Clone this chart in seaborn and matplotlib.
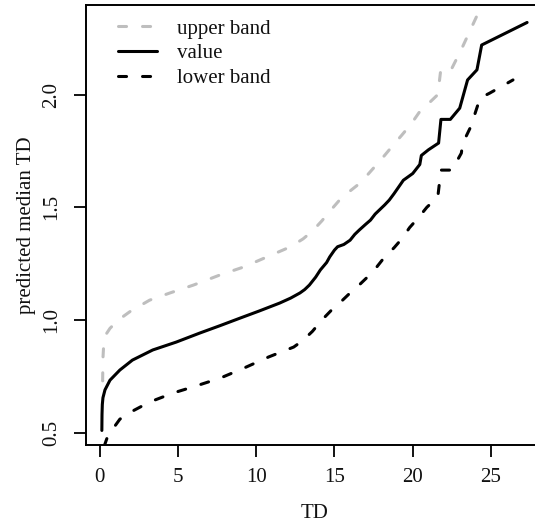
import matplotlib
matplotlib.use("Agg")
import matplotlib.pyplot as plt
import seaborn as sns
import pandas as pd

# Fitted median curve and its confidence band against TD
td_value = [0.15, 0.16, 0.18, 0.22, 0.35, 0.67, 1.3, 2.1, 3.4, 4.9, 6.4, 7.7, 9.0,
            10.2, 11.5, 12.2, 12.8, 13.1, 13.4, 13.8, 14.1, 14.5, 14.7, 15.0, 15.2,
            15.6, 16.0, 16.3, 16.6, 17.0, 17.3, 17.6, 17.9, 18.2, 18.5, 18.8, 19.0,
            19.4, 20.0, 20.45, 20.55, 21.0, 21.65, 21.8, 22.4, 23.0, 23.5, 24.1, 24.4, 27.3]
value = [0.51, 0.58, 0.625, 0.655, 0.69, 0.733, 0.778, 0.822, 0.867, 0.902, 0.942,
         0.975, 1.009, 1.04, 1.075, 1.097, 1.12, 1.135, 1.155, 1.19, 1.222, 1.255, 1.28,
         1.31, 1.325, 1.335, 1.354, 1.38, 1.40, 1.425, 1.443, 1.47, 1.49, 1.51, 1.532,
         1.56, 1.58, 1.62, 1.65, 1.69, 1.73, 1.755, 1.785, 1.89, 1.89, 1.94, 2.065,
         2.11, 2.22, 2.32]

td_upper = [0.2, 0.22, 0.26, 0.32, 0.45, 0.67, 1.2, 2.0, 3.2, 4.5, 6.0, 7.7, 9.2, 10.7,
            12.2, 13.0, 13.6, 14.2, 14.8, 15.3, 15.9, 16.5, 17.1, 17.7, 18.2, 18.8,
            19.3, 19.9, 20.5, 21.0, 21.6, 21.8, 22.5, 23.1, 24.1, 24.6, 27.3]
upper = [0.73, 0.83, 0.88, 0.91, 0.94, 0.963, 1.0, 1.04, 1.088, 1.12, 1.155, 1.20,
         1.235, 1.28, 1.325, 1.36, 1.395, 1.44, 1.49, 1.53, 1.567, 1.60, 1.643, 1.69,
         1.73, 1.78, 1.82, 1.87, 1.93, 1.96, 2.0, 2.117, 2.117, 2.20, 2.35, 2.42, 2.55]

td_lower = [0.3, 0.5, 0.8, 1.3, 1.95, 3.2, 4.7, 6.1, 7.7, 9.2, 10.8, 12.4, 13.0, 13.6,
            14.2, 14.8, 15.4, 16.0, 16.5, 17.1, 17.7, 18.2, 18.8, 19.3, 19.8, 20.4,
            20.9, 21.6, 21.8, 22.5, 23.1, 23.2, 23.7, 24.3, 24.9, 26.4]
lower = [0.44, 0.48, 0.512, 0.56, 0.59, 0.636, 0.676, 0.706, 0.742, 0.786, 0.836, 0.88,
         0.91, 0.95, 1.0, 1.043, 1.08, 1.12, 1.15, 1.19, 1.235, 1.279, 1.32, 1.36,
         1.41, 1.457, 1.50, 1.546, 1.665, 1.665, 1.74, 1.785, 1.857, 1.985, 2.006, 2.065]

y_ticks = [0.5, 1.0, 1.5, 2.0]
x_ticks = [0, 5, 10, 15, 20, 25]

sns.set_theme(style="white")
plt.rcParams["font.family"] = ["Liberation Serif", "DejaVu Serif"]
plt.rcParams["lines.scale_dashes"] = False

fig = plt.figure(figsize=(5.35, 5.25), dpi=100)
ax = fig.add_axes([86 / 535, 80 / 525, 458 / 535, 440 / 525])

dash = (5.8, 11.5)
lw = 2.2

df_up = pd.DataFrame({"TD": td_upper, "y": upper})
df_val = pd.DataFrame({"TD": td_value, "y": value})
df_low = pd.DataFrame({"TD": td_lower, "y": lower})

sns.lineplot(data=df_up, x="TD", y="y", sort=False, estimator=None, ax=ax,
             color="#bebebe", lw=lw, label="upper band")
sns.lineplot(data=df_val, x="TD", y="y", sort=False, estimator=None, ax=ax,
             color="black", lw=lw, label="value")
sns.lineplot(data=df_low, x="TD", y="y", sort=False, estimator=None, ax=ax,
             color="black", lw=lw, label="lower band")

for i in (0, 2):
    ln = ax.lines[i]
    ln.set_dashes(dash)
    ln.set_dash_capstyle("round")
for ln in ax.lines:
    ln.set_solid_capstyle("round")
    ln.set_solid_joinstyle("round")

ax.set_xlim(-0.862, 28.38)
ax.set_ylim(0.4454, 2.3975)
ax.set_xticks(x_ticks)
ax.set_yticks(y_ticks)
ax.set_xticklabels([str(t) for t in x_ticks])
ax.set_yticklabels([f"{t:.1f}" for t in y_ticks], rotation=90, va="center")

ax.tick_params(axis="both", which="major", direction="out", length=8.6, width=1.3,
               color="black", labelsize=15, labelcolor="#111111")
ax.tick_params(axis="x", pad=8)
ax.tick_params(axis="y", pad=9)
ax.tick_params(left=True, bottom=True)

for s in ("left", "bottom", "top"):
    ax.spines[s].set_visible(True)
    ax.spines[s].set_color("black")
    ax.spines[s].set_linewidth(1.4)
ax.spines["right"].set_visible(False)

ax.set_xlabel("TD", fontsize=15, color="#111111", labelpad=12)
ax.set_ylabel("predicted median TD", fontsize=15, color="#111111", labelpad=5)

leg = ax.legend(loc="upper left", bbox_to_anchor=(32 / 458, 1 - 14 / 440),
                frameon=False, fontsize=15, handlelength=1.87, handletextpad=0.96,
                borderpad=0, borderaxespad=0, labelspacing=0.25)
for t in leg.get_texts():
    t.set_color("#111111")

fig.savefig("out.png", dpi=100)
